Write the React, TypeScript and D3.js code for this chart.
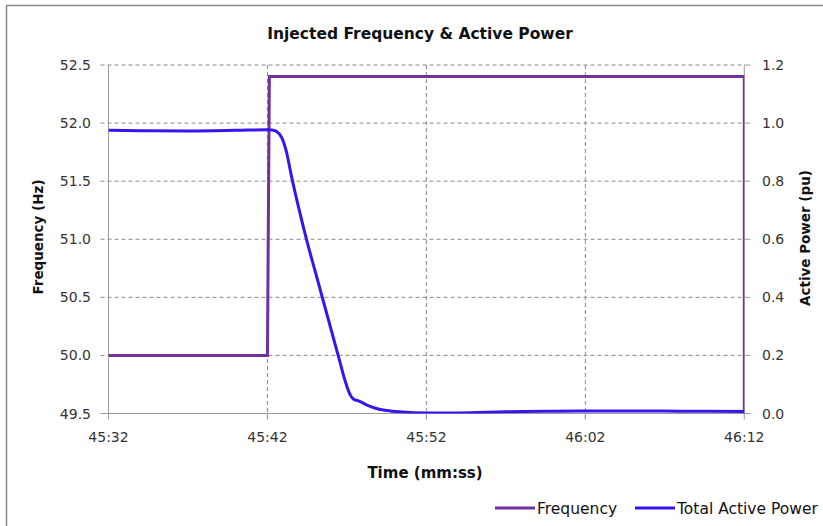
import React from "react";
import * as d3 from "d3";

// Time in seconds after 45:32
const xTickSeconds = [0, 10, 20, 30, 40];
const xTickLabels = ["45:32", "45:42", "45:52", "46:02", "46:12"];
const freqTicks = [49.5, 50.0, 50.5, 51.0, 51.5, 52.0, 52.5];
const powerTicks = [0, 0.2, 0.4, 0.6, 0.8, 1.0, 1.2];

const freqTime = [0, 10.0, 10.12, 40, 40];
const freqValue = [50.0, 50.0, 52.4, 52.4, 49.5];

const powerTime = [0, 2, 5, 8, 10.0, 10.3, 10.6, 10.9, 11.2, 11.5, 12.0, 12.5, 13.0, 13.5, 14.0, 14.5, 14.9, 15.2, 15.4, 15.8, 16.3, 16.8, 17.5, 18.5, 20, 22, 25, 28, 30, 33, 36, 40];
const powerValue = [0.975, 0.974, 0.973, 0.975, 0.977, 0.976, 0.97, 0.95, 0.9, 0.82, 0.7, 0.59, 0.49, 0.39, 0.29, 0.19, 0.11, 0.065, 0.05, 0.042, 0.028, 0.018, 0.01, 0.005, 0.002, 0.002, 0.006, 0.008, 0.009, 0.009, 0.008, 0.007];

const seriesNames = ["Frequency", "Total Active Power"];
const seriesColors = ["#7030A0", "#3A14F0"];

const W = 823;
const H = 526;
const left = 108.5;
const right = 744.3;
const top = 65;
const bottom = 413.5;
const FONT = "'DejaVu Sans', sans-serif";

export default function App() {
  const x = d3.scaleLinear().domain([0, 40]).range([left, right]);
  const yF = d3.scaleLinear().domain([49.5, 52.5]).range([bottom, top]);
  const yP = d3.scaleLinear().domain([0, 1.2]).range([bottom, top]);

  const freqPts: [number, number][] = freqTime.map((t, i) => [x(t), yF(freqValue[i])]);
  const powPts: [number, number][] = powerTime.map((t, i) => [x(t), yP(powerValue[i])]);
  const lineLin = d3.line().curve(d3.curveLinear);
  const lineSmooth = d3.line().curve(d3.curveMonotoneX);

  const grid = "#8a8a8a";
  const axisC = "#9a9a9a";
  const textC = "#333";

  return (
    <svg width={W} height={H} style={{ position: "absolute", left: 0, top: 0, background: "#fff" }} fontFamily={FONT}>
      <rect x={0} y={0} width={W} height={H} fill="#fff" />
      <rect x={6.5} y={5.5} width={W + 20} height={H + 20} fill="none" stroke="#888" strokeWidth={1.5} />
      <text x={420} y={39} textAnchor="middle" fontWeight="bold" fontSize={15.5} fill="#111">
        Injected Frequency &amp; Active Power
      </text>
      <defs>
        <clipPath id="plotclip">
          <rect x={left} y={top - 5} width={right - left} height={bottom - top + 5} />
        </clipPath>
      </defs>
      {/* horizontal gridlines */}
      {freqTicks.slice(1).map((v) => (
        <line key={"hg" + v} x1={left - 8} x2={right} y1={yF(v)} y2={yF(v)} stroke={grid} strokeDasharray="4,3" strokeWidth={1} />
      ))}
      {/* vertical gridlines */}
      {xTickSeconds.slice(1, -1).map((t) => (
        <line key={"vg" + t} x1={x(t)} x2={x(t)} y1={top} y2={bottom + 6} stroke={grid} strokeDasharray="4,3" strokeWidth={1} />
      ))}
      {/* axes */}
      <line x1={left} x2={left} y1={top} y2={bottom} stroke={axisC} strokeWidth={1} />
      <line x1={right} x2={right} y1={top} y2={bottom} stroke={axisC} strokeWidth={1} />
      <line x1={left - 8} x2={right + 6} y1={bottom} y2={bottom} stroke={axisC} strokeWidth={1} />
      {xTickSeconds.map((t) => (
        <line key={"xt" + t} x1={x(t)} x2={x(t)} y1={bottom} y2={bottom + 6} stroke={axisC} />
      ))}
      {powerTicks.map((v) => (
        <line key={"pt" + v} x1={right} x2={right + 6} y1={yP(v)} y2={yP(v)} stroke={axisC} />
      ))}
      {/* tick labels */}
      {freqTicks.map((v) => (
        <text key={"fl" + v} x={91} y={yF(v)} dy="0.36em" textAnchor="end" fontSize={14} fill={textC}>
          {d3.format(".1f")(v)}
        </text>
      ))}
      {powerTicks.map((v) => (
        <text key={"pl" + v} x={762} y={yP(v)} dy="0.36em" textAnchor="start" fontSize={14} fill={textC}>
          {d3.format(".1f")(v)}
        </text>
      ))}
      {xTickSeconds.map((t, i) => (
        <text key={"xl" + t} x={x(t)} y={442} textAnchor="middle" fontSize={14} fill={textC}>
          {xTickLabels[i]}
        </text>
      ))}
      {/* axis titles */}
      <text transform={`translate(38,237) rotate(-90)`} dy="0.36em" textAnchor="middle" fontWeight="bold" fontSize={13.5} fill="#111">
        Frequency (Hz)
      </text>
      <text transform={`translate(805,238) rotate(-90)`} dy="0.36em" textAnchor="middle" fontWeight="bold" fontSize={13.5} fill="#111">
        Active Power (pu)
      </text>
      <text x={425} y={478} textAnchor="middle" fontWeight="bold" fontSize={15} fill="#111">
        Time (mm:ss)
      </text>
      {/* series */}
      <g clipPath="url(#plotclip)">
        <path d={lineLin(freqPts) || ""} fill="none" stroke={seriesColors[0]} strokeWidth={3} />
        <path d={lineSmooth(powPts) || ""} fill="none" stroke={seriesColors[1]} strokeWidth={3} strokeLinejoin="round" />
      </g>
      {/* legend */}
      <line x1={495} x2={535} y1={508} y2={508} stroke={seriesColors[0]} strokeWidth={3} />
      <text x={537} y={508} dy="0.36em" fontSize={15.5} fill="#111">{seriesNames[0]}</text>
      <line x1={635} x2={675} y1={508} y2={508} stroke={seriesColors[1]} strokeWidth={3} />
      <text x={677} y={508} dy="0.36em" fontSize={15.5} fill="#111">{seriesNames[1]}</text>
    </svg>
  );
}
